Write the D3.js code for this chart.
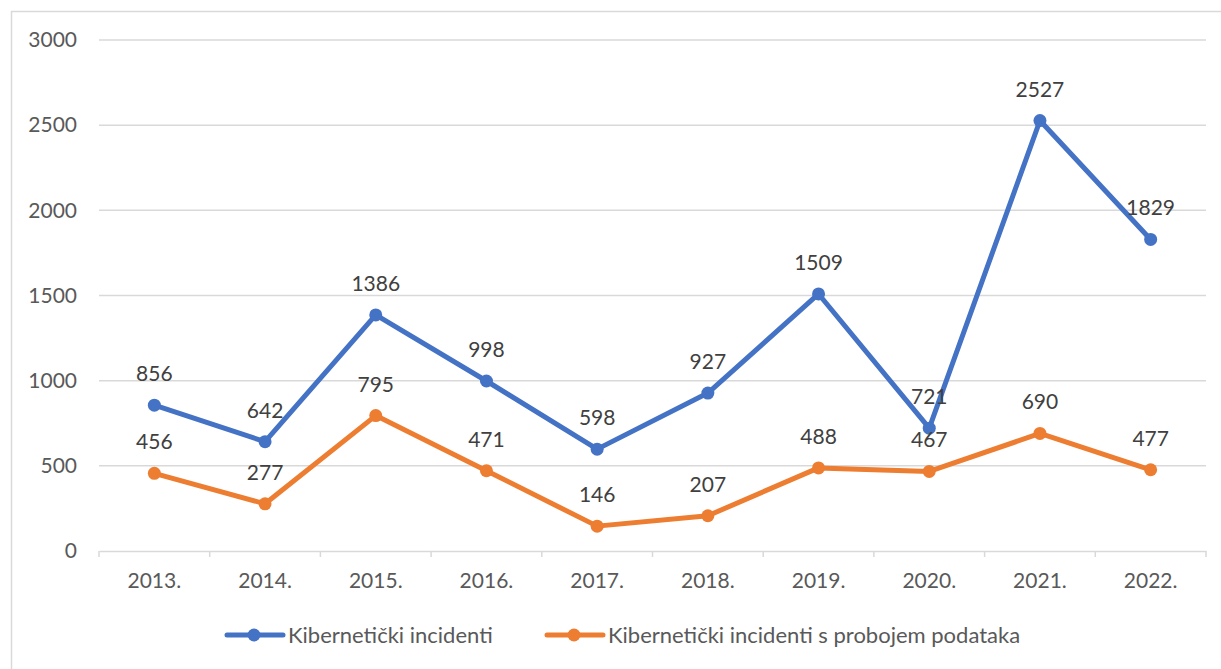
<!doctype html>
<html>
<head>
<meta charset="utf-8">
<style>
    body { margin: 0; background: #fff; }
    svg text { font-family: Lato, "Open Sans", sans-serif; }
</style>
<script src="https://d3js.org/d3.v7.min.js"></script>
</head>
<body>
<svg width="1221" height="669"></svg>
<script>
// chart data
var years = ["2013.", "2014.", "2015.", "2016.", "2017.", "2018.", "2019.", "2020.", "2021.", "2022."];
var incidents = [856, 642, 1386, 998, 598, 927, 1509, 721, 2527, 1829];
var breaches = [456, 277, 795, 471, 146, 207, 488, 467, 690, 477];
var yTicks = [0, 500, 1000, 1500, 2000, 2500, 3000];
var seriesNames = ["Kibernetički incidenti", "Kibernetički incidenti s probojem podataka"];
var colors = ["#4472C4", "#ED7D31"];

var svg = d3.select("svg");

// outer chart frame (runs off the right / bottom edge like the screenshot)
svg.append("rect")
    .attr("x", 11.5).attr("y", 11.5)
    .attr("width", 1300).attr("height", 700)
    .attr("fill", "none")
    .attr("stroke", "#d9d9d9")
    .attr("stroke-width", 1.5);

var plotL = 99, plotR = 1206, plotT = 40, plotB = 551;

var x = d3.scaleBand().domain(years).range([plotL, plotR]);
var y = d3.scaleLinear().domain([0, 3000]).range([plotB, plotT]);

// gridlines
svg.append("g")
    .selectAll("line")
    .data(yTicks.filter(function(d) { return d > 0; }))
    .enter().append("line")
    .attr("x1", plotL).attr("x2", plotR)
    .attr("y1", function(d) { return y(d); })
    .attr("y2", function(d) { return y(d); })
    .attr("stroke", "#d9d9d9")
    .attr("stroke-width", 1.5);

// y axis labels
var yAxis = svg.append("g")
    .attr("transform", "translate(" + plotL + ",0)")
    .call(d3.axisLeft(y).tickValues(yTicks).tickFormat(d3.format("d"))
        .tickSize(0).tickPadding(22));
yAxis.select(".domain").remove();
yAxis.selectAll("text")
    .attr("fill", "#595959")
    .style("font-size", "21px");

// x axis with boundary ticks
var xAxis = svg.append("g")
    .attr("transform", "translate(0," + plotB + ")")
    .call(d3.axisBottom(x).tickSize(0).tickPadding(22));
xAxis.select(".domain")
    .attr("stroke", "#d9d9d9")
    .attr("stroke-width", 1.5);
xAxis.selectAll("text")
    .attr("fill", "#595959")
    .style("font-size", "21px");
var bounds = years.map(function(d) { return x(d); }).concat([plotR]);
xAxis.selectAll(".bound")
    .data(bounds)
    .enter().append("line")
    .attr("class", "bound")
    .attr("x1", function(d) { return d; })
    .attr("x2", function(d) { return d; })
    .attr("y1", 0).attr("y2", 6)
    .attr("stroke", "#d9d9d9")
    .attr("stroke-width", 1.5);

var cx = function(d, i) { return x(years[i]) + x.bandwidth() / 2; };

var line = d3.line()
    .x(function(d, i) { return cx(d, i); })
    .y(function(d) { return y(d); });

[breaches, incidents].forEach(function(vals) {
    var k = vals === incidents ? 0 : 1;
    var g = svg.append("g");
    g.append("path")
        .datum(vals)
        .attr("d", line)
        .attr("fill", "none")
        .attr("stroke", colors[k])
        .attr("stroke-width", 5)
        .attr("stroke-linejoin", "round")
        .attr("stroke-linecap", "round");
    g.selectAll("circle")
        .data(vals)
        .enter().append("circle")
        .attr("cx", cx)
        .attr("cy", function(d) { return y(d); })
        .attr("r", 6.5)
        .attr("fill", colors[k]);
});

// data labels
[incidents, breaches].forEach(function(vals) {
    svg.append("g")
        .selectAll("text")
        .data(vals)
        .enter().append("text")
        .attr("x", cx)
        .attr("y", function(d) { return y(d) - 24; })
        .attr("text-anchor", "middle")
        .attr("fill", "#404040")
        .style("font-size", "21px")
        .text(function(d) { return d; });
});

// legend
var legendX = [227, 547];
var legend = svg.append("g")
    .selectAll("g")
    .data(seriesNames)
    .enter().append("g")
    .attr("transform", function(d, i) { return "translate(" + legendX[i] + ",635)"; });
legend.append("line")
    .attr("x1", 0).attr("x2", 56)
    .attr("stroke", function(d, i) { return colors[i]; })
    .attr("stroke-width", 5)
    .attr("stroke-linecap", "round");
legend.append("circle")
    .attr("cx", 27).attr("r", 6.5)
    .attr("fill", function(d, i) { return colors[i]; });
legend.append("text")
    .attr("x", 61).attr("y", 8)
    .attr("fill", "#595959")
    .style("font-size", "22px")
    .text(function(d) { return d; });
</script>
</body>
</html>
